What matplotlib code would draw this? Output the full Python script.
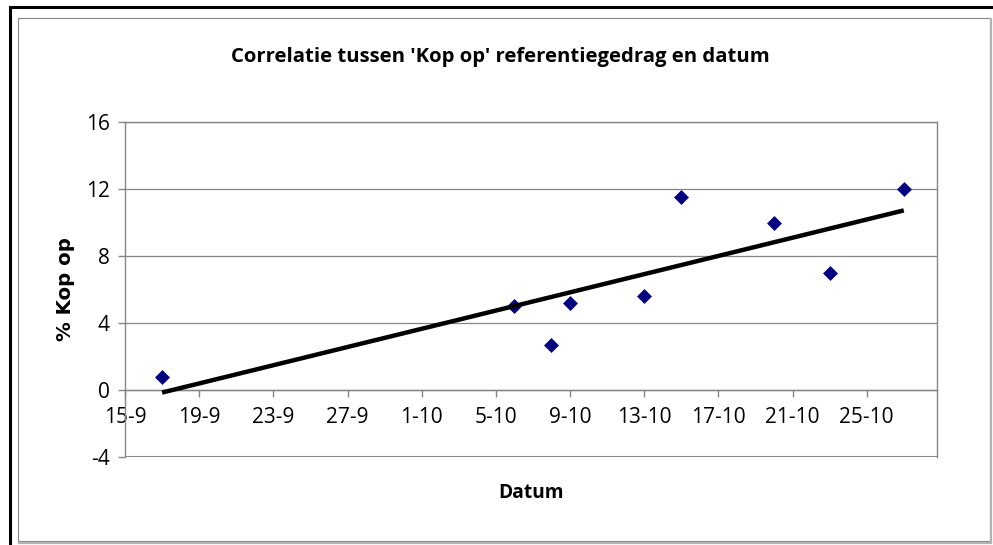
import numpy as np
import matplotlib
matplotlib.use("Agg")
import matplotlib.pyplot as plt
import matplotlib.dates as mdates
from matplotlib.lines import Line2D
from matplotlib.patches import Rectangle

# ---------------------------------------------------------------
# data
# ---------------------------------------------------------------

dates = np.array(["2007-09-17", "2007-10-06", "2007-10-08", "2007-10-09", "2007-10-13",
                  "2007-10-15", "2007-10-20", "2007-10-23", "2007-10-27"], dtype="datetime64[D]")
kop_op = [0.8, 5.0, 2.7, 5.2, 5.6, 11.5, 10.0, 7.0, 12.0]
x_first = np.datetime64("2007-09-15")
x_last = np.datetime64("2007-10-28T19:00")
y_ticks = [-4, 0, 4, 8, 12, 16]
title = "Correlatie tussen 'Kop op' referentiegedrag en datum"

# ---------------------------------------------------------------
# main
# ---------------------------------------------------------------

plt.rcParams["font.family"] = ["Open Sans", "DejaVu Sans"]
plt.rcParams["axes.unicode_minus"] = False
grey = "#868686"

fig = plt.figure(figsize=(9.93, 5.45), dpi=100)
ax = fig.add_axes([125 / 993, 1 - 457 / 545, 812 / 993, 335 / 545])

xnum = mdates.date2num(dates)
ax.scatter(dates, kop_op, marker="D", s=58, color="#000080", zorder=3, linewidths=0)

# linear trendline, as excel draws it
slope, icpt = np.polyfit(xnum, kop_op, 1)
xs = np.array([xnum.min(), xnum.max()])
ax.plot(mdates.num2date(xs), slope * xs + icpt, color="black", lw=3.2, zorder=4,
        solid_capstyle="butt")

# axes
ax.set_xlim(x_first, x_last)
ax.set_ylim(y_ticks[0], y_ticks[-1])
ax.set_yticks(y_ticks)
xticks = np.arange(x_first, np.datetime64("2007-10-28"), np.timedelta64(4, "D"))
ax.set_xticks(mdates.date2num(xticks))
ax.xaxis.set_major_formatter(mdates.DateFormatter("%-d-%-m"))

for s in ax.spines.values():
    s.set_color(grey)
    s.set_linewidth(1.0)
ax.spines["bottom"].set_position(("data", 0))
ax.axhline(y_ticks[0], color=grey, lw=1.5, zorder=1)
ax.yaxis.grid(True, color=grey, lw=0.9)
ax.set_axisbelow(True)
ax.tick_params(axis="both", colors=grey, labelcolor="black", labelsize=15, length=5, width=1)
ax.tick_params(axis="x", pad=7)
ax.tick_params(axis="y", pad=6)

ax.set_xlabel("Datum", fontsize=13.8, fontweight="bold", va="center")
ax.xaxis.set_label_coords(0.5, -0.107)
ax.set_ylabel("% Kop op", fontsize=14.2, fontweight="bold", va="center",
              family=["DejaVu Sans"])
ax.yaxis.set_label_coords(-0.073, 0.5)

fig.text(500 / 993, 1 - 57 / 545, title, ha="center", va="center",
         fontsize=14.6, fontweight="bold")

# frames: inner chart area (grey with shadow) and outer black box
fig.patches.append(Rectangle((18 / 993, 1 - 541 / 545), 972 / 993, 523 / 545,
                             transform=fig.transFigure, fill=False, ec=grey, lw=0.8))
fig.lines.append(Line2D([991 / 993, 991 / 993], [1 - 542 / 545, 1 - 19 / 545],
                        transform=fig.transFigure, color="#b4b4b4", lw=1.6))
fig.lines.append(Line2D([19 / 993, 991 / 993], [1 - 542.5 / 545, 1 - 542.5 / 545],
                        transform=fig.transFigure, color="#b4b4b4", lw=1.6))
fig.patches.append(Rectangle((9.5 / 993, -0.2), 1.2, 1.2 - 7 / 545,
                             transform=fig.transFigure, fill=False, ec="black", lw=2.2))

fig.savefig("out.png", dpi=100)
